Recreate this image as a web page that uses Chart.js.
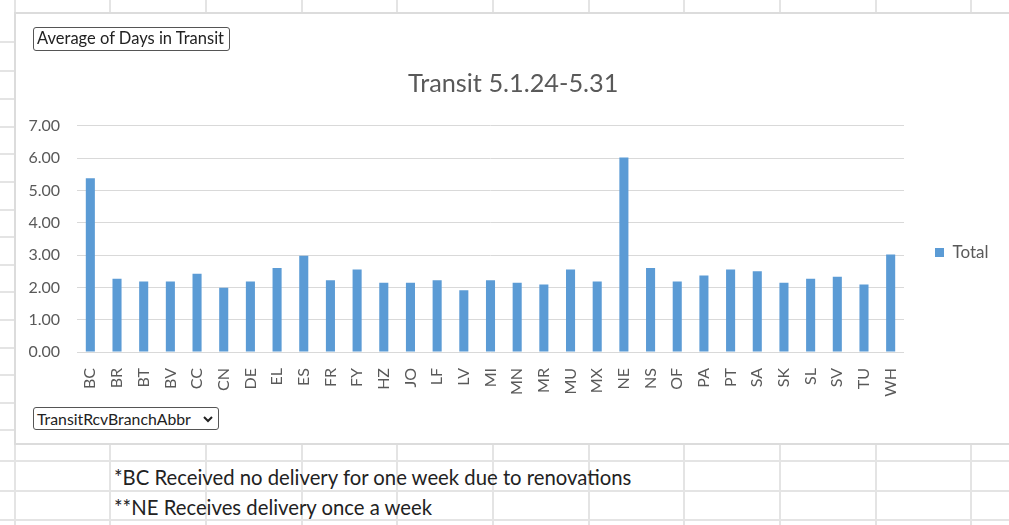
<!DOCTYPE html>
<html>
<head>
<meta charset="utf-8">
<script src="https://cdn.jsdelivr.net/npm/chart.js@4.4.1/dist/chart.umd.min.js"></script>
<style>
  body { margin:0; width:1009px; height:525px; overflow:hidden; background:#fff; position:relative; font-family: Lato, "Open Sans", sans-serif; }
  .vl { position:absolute; width:2px; background:#e4e4e4; }
  .hl { position:absolute; height:2px; background:#e4e4e4; }
  #box { position:absolute; left:14px; top:12px; width:1000px; height:433px; box-sizing:border-box; border:2px solid #dcdcdc; border-right:none; background:#fff; }
  #wrap { position:absolute; left:15px; top:13px; width:994px; height:431px; }
  .btn { position:absolute; box-sizing:border-box; border:1px solid #555; border-radius:3px; background:#fff; color:#222; font-size:16.5px; line-height:21px; padding:0 3px; white-space:nowrap; }
  .note { position:absolute; left:114px; font-size:20.3px; line-height:24px; color:#222; white-space:nowrap; }
</style>
</head>
<body>
<div id="grid"></div>
<div id="box"></div>
<div id="wrap"><canvas id="mychart" width="994" height="431"></canvas></div>
<div class="btn" style="left:33px;top:27px;width:197px;height:24px;">Average of Days in Transit</div>
<div class="btn" style="left:33px;top:407px;width:186px;height:23px;font-size:15.8px;">TransitRcvBranchAbbr
  <svg width="10" height="7" style="position:absolute;right:5px;top:8px"><path d="M1 1 L5 5 L9 1" stroke="#222" stroke-width="2" fill="none"/></svg>
</div>
<div class="note" style="top:465px;">*BC Received no delivery for one week due to renovations</div>
<div class="note" style="top:495px;">**NE Receives delivery once a week</div>
<script>
let branches = ['BC','BR','BT','BV','CC','CN','DE','EL','ES','FR','FY','HZ','JO','LF','LV','MI',
  'MN','MR','MU','MX','NE','NS','OF','PA','PT','SA','SK','SL','SV','TU','WH'];
let avgDays = [5.38, 2.27, 2.18, 2.18, 2.42, 1.99, 2.18, 2.60, 2.98, 2.22, 2.55, 2.14, 2.14, 2.22, 1.91, 2.22,
  2.14, 2.09, 2.55, 2.18, 6.02, 2.60, 2.18, 2.37, 2.55, 2.50, 2.14, 2.27, 2.33, 2.09, 3.02];
let yMin = 0, yMax = 7, yStep = 1;

// spreadsheet grid behind the chart
let cols = [110, 206, 302, 397, 493, 589, 684, 780, 876, 971];
let sideRows = [42, 71, 99, 127, 154, 182, 210, 237, 265, 292, 320, 348, 375, 403, 430];
let lowRows = [461, 491, 520];
let g = document.getElementById('grid');
function line(cls, css) {
  let d = document.createElement('div');
  d.className = cls;
  d.style.cssText = css;
  g.appendChild(d);
}
cols.forEach(x => line('vl', `left:${x-1}px;top:0;height:13px`));
[15].concat(cols).forEach(x => line('vl', `left:${x-1}px;top:444px;height:81px`));
sideRows.forEach(y => line('hl', `left:0;top:${y-1}px;width:15px`));
lowRows.forEach(y => line('hl', `left:0;top:${y-1}px;width:1009px`));
line('vl', 'left:14px;top:0;height:525px');

let font = 'Lato';
let ctx = document.getElementById('mychart').getContext('2d');
let myChart = new Chart(ctx, {
  type: 'bar',
  data: {
    labels: branches,
    datasets: [{
      label: 'Total',
      data: avgDays,
      backgroundColor: '#5b9bd5',
      barPercentage: 0.34,
      categoryPercentage: 1
    }]
  },
  options: {
    responsive: false,
    animation: false,
    layout: { padding: { left: 0, right: 17, top: 0, bottom: 0 } },
    plugins: {
      title: {
        display: true,
        // leading spaces nudge the centred title right, like Excel's placement
        text: '   Transit 5.1.24-5.31',
        color: '#595959',
        font: { family: font, size: 25.3, weight: 'normal' },
        padding: { top: 56, bottom: 26.5 }
      },
      legend: {
        position: 'right',
        maxWidth: 88,
        title: { display: true, text: ' ', font: { family: font, size: 13, lineHeight: 48 / 13 }, padding: 0 },
        labels: {
          boxWidth: 9, boxHeight: 9, padding: 31,
          color: '#595959',
          font: { family: font, size: 17 }
        }
      },
      tooltip: { enabled: false }
    },
    scales: {
      x: {
        grid: { display: false },
        border: { display: false },
        ticks: {
          color: '#595959', font: { family: font, size: 16 },
          minRotation: 90, maxRotation: 90, padding: 8, autoSkip: false
        },
        afterFit: s => { s.height = 92; }
      },
      y: {
        min: yMin, max: yMax,
        grid: { color: '#d9d9d9', lineWidth: 1, drawTicks: false },
        border: { display: false },
        ticks: {
          stepSize: yStep, color: '#595959', padding: 17,
          font: { family: font, size: 16 },
          callback: v => v.toFixed(2)
        },
        afterFit: s => { s.width = 62; }
      }
    }
  }
});
</script>
</body>
</html>
